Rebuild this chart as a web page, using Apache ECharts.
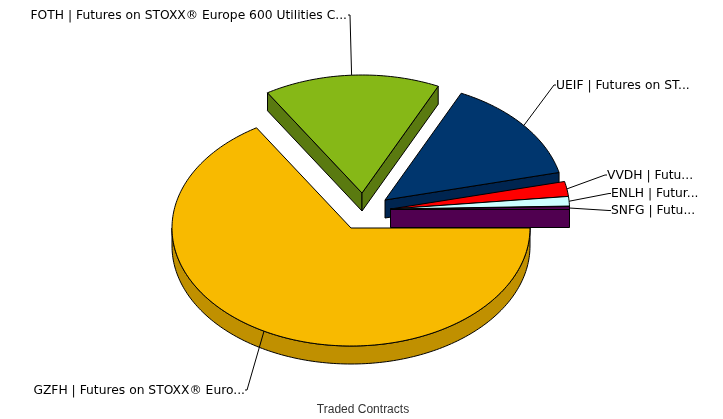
<!DOCTYPE html>
<html><head><meta charset="utf-8">
<style>html,body{margin:0;padding:0;background:#fff}#c{width:723px;height:419px}</style>
<script src="https://cdn.jsdelivr.net/npm/echarts@6/dist/echarts.min.js"></script>
</head><body><div id="c"></div>
<script>
const labels = [
  'GZFH | Futures on STOXX® Euro...',
  'FOTH | Futures on STOXX® Europe 600 Utilities C...',
  'UEIF | Futures on ST...',
  'VVDH | Futu...',
  'ENLH | Futur...',
  'SNFG | Futu...'
];
const values = [66.15, 15.85, 14.25, 2.05, 1.3, 0.4];
const topColors = ['#F8BA00', '#86B817', '#00366E', '#FF0000', '#CCFFFF', '#500050'];
const sideColors = ['#C09000', '#5A7A10', '#002550', '#B00000', '#90B0B0', '#500050'];
const apexX = [351, 362, 385, 390.5, 390.5, 390.5];
const apexY = [228, 193, 200, 209, 209, 209.5];
const labelX = [245, 347, 556, 607, 611, 611];
const labelY = [390, 15, 85, 175, 193.5, 210.5];
const elbowX = [247, 350, 554, 605, 609, 609];
const labelAlign = ['right', 'right', 'left', 'left', 'left', 'left'];
const drawOrder = [1, 2, 3, 4, 5, 0];
const RX = 179, RY = 118, DEPTH = 18;

const total = values.reduce((a, b) => a + b, 0);
const starts = [];
values.reduce((acc, v, i) => { starts[i] = acc; return acc + v; }, 0);
const rad = v => v / total * Math.PI * 2;

function arcPts(cx, cy, a0, a1, dy) {
  const n = Math.max(2, Math.ceil((a1 - a0) / 0.02));
  const pts = [];
  for (let k = 0; k <= n; k++) {
    const t = a0 + (a1 - a0) * k / n;
    pts.push([cx + RX * Math.cos(t), cy + RY * Math.sin(t) + dy]);
  }
  return pts;
}
const border = { stroke: '#000', lineWidth: 1, lineJoin: 'round' };

function renderItem(params, api) {
  const i = api.value(1);
  const t0 = rad(starts[i]), t1 = t0 + rad(api.value(0));
  const cx = apexX[i], cy = apexY[i];
  const kids = [];
  const side = { ...border, fill: sideColors[i] };
  const wall = t => {
    const ex = cx + RX * Math.cos(t), ey = cy + RY * Math.sin(t);
    kids.push({ type: 'polygon', shape: { points: [[cx, cy], [ex, ey], [ex, ey + DEPTH], [cx, cy + DEPTH]] }, style: side });
  };
  if (-Math.cos(t0) > 0) wall(t0);
  if (Math.cos(t1) > 0) wall(t1);
  const a = t0, b = Math.min(t1, Math.PI);
  if (b > a) {
    const up = arcPts(cx, cy, a, b, 0), lo = arcPts(cx, cy, a, b, DEPTH).reverse();
    kids.push({ type: 'polygon', shape: { points: up.concat(lo) }, style: side });
  }
  kids.push({ type: 'polygon', shape: { points: [[cx, cy]].concat(arcPts(cx, cy, t0, t1, 0)) }, style: { ...border, fill: topColors[i] } });
  return { type: 'group', children: kids };
}

function renderLabel(params, api) {
  const i = api.value(1);
  const t0 = rad(starts[i]), tm = t0 + rad(api.value(0)) / 2;
  const px = apexX[i] + RX * Math.cos(tm), py = apexY[i] + RY * Math.sin(tm);
  const dir = labelAlign[i] === 'right' ? -1 : 1;
  return { type: 'group', children: [
    { type: 'polyline', shape: { points: [[px, py], [elbowX[i], labelY[i]], [elbowX[i] + dir * 2, labelY[i]]] },
      style: { stroke: '#000', lineWidth: 1, fill: null } },
    { type: 'text', x: labelX[i], y: labelY[i] + 0.8, style: { text: labels[i], fill: '#000', font: '12.3px "DejaVu Sans"', align: labelAlign[i], verticalAlign: 'middle' } }
  ] };
}

const pieData = drawOrder.map(i => [values[i], i]);
const chart = echarts.init(document.getElementById('c'), null, { renderer: 'canvas' });
chart.setOption({
  animation: false,
  backgroundColor: '#fff',
  title: { text: 'Traded Contracts', left: 358, top: 399, textAlign: 'center',
    textStyle: { fontFamily: '"Liberation Sans"', fontSize: 12, fontWeight: 'normal', color: '#333' } },
  xAxis: { show: false }, yAxis: { show: false },
  series: [
    { type: 'custom', coordinateSystem: 'none', renderItem, data: pieData, silent: true, z: 2 },
    { type: 'custom', coordinateSystem: 'none', renderItem: renderLabel, data: pieData, silent: true, z: 3 }
  ]
});
</script></body></html>
